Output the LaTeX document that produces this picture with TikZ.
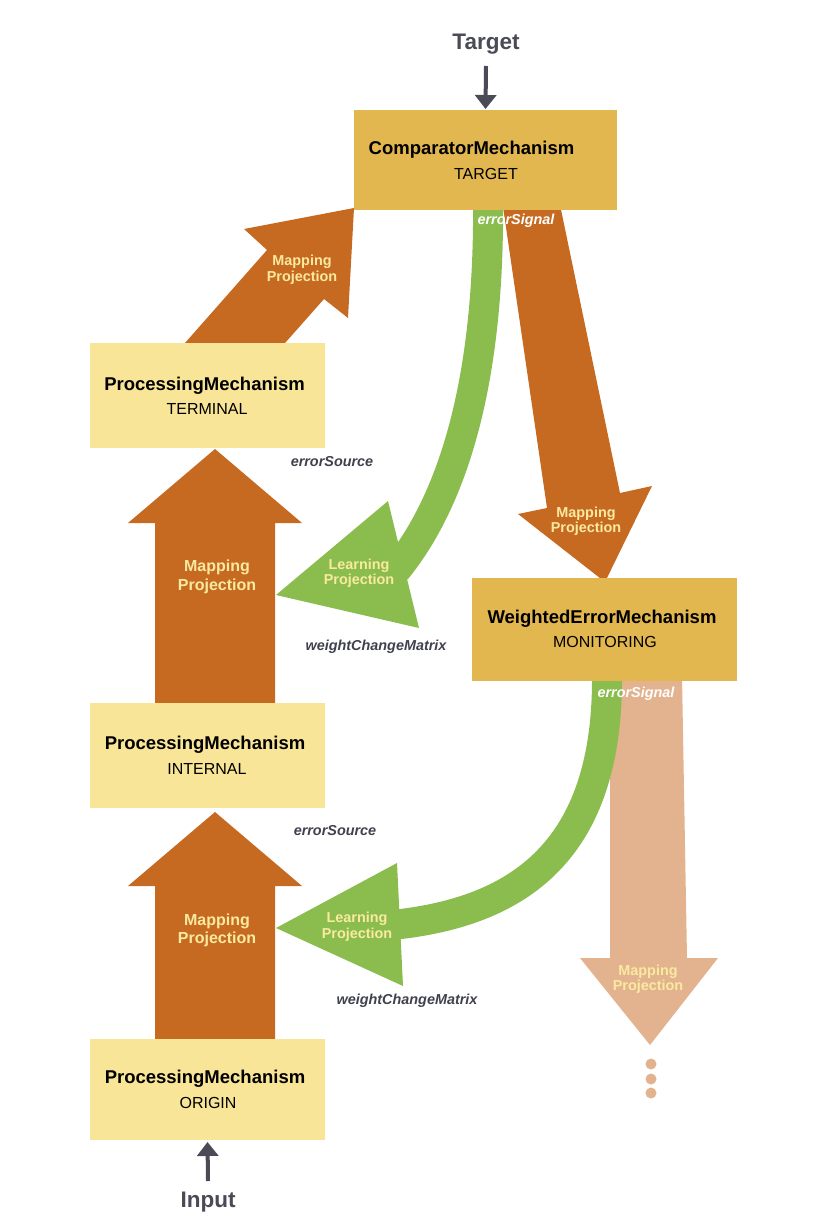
\documentclass[tikz,border=0pt]{standalone}
\usepackage{fontspec}
\setmainfont{Liberation Sans}
\usetikzlibrary{arrows.meta}
\definecolor{gold}{RGB}{227,183,79}
\definecolor{pale}{RGB}{248,229,151}
\definecolor{rust}{RGB}{198,106,34}
\definecolor{leaf}{RGB}{139,189,78}
\definecolor{peach}{RGB}{226,179,142}
\definecolor{cream}{RGB}{250,234,160}
\definecolor{slate}{RGB}{74,75,87}
\definecolor{ink}{RGB}{64,65,78}
\begin{document}
\begin{tikzpicture}[x=1pt,y=-1pt,
  box/.style={inner sep=0pt, outer sep=0pt, draw=none},
  palebox/.style={box, fill=pale, minimum width=235pt},
  goldbox/.style={box, fill=gold},
  mtitle/.style={font=\fontsize{18.5}{20}\selectfont\bfseries, anchor=base, inner sep=0pt},
  msub/.style={font=\fontsize{16}{18}\selectfont, anchor=base, inner sep=0pt},
  header/.style={font=\fontsize{22.5}{24}\selectfont\bfseries, text=slate, anchor=base, inner sep=0pt},
  arrlbl/.style={text=cream, font=\fontsize{14.4}{15.5}\selectfont\bfseries, align=center, inner sep=0pt},
  biglbl/.style={text=cream, font=\fontsize{16}{18.5}\selectfont\bfseries, align=center, inner sep=0pt},
  portlbl/.style={font=\fontsize{14.4}{16}\selectfont\bfseries\itshape, inner sep=0pt, text=ink},
  siglbl/.style={portlbl, text=white},
  ioarrow/.style={draw=slate, line width=4pt, -{Triangle[width=21pt,length=14pt]}},
  learnshaft/.style={draw=leaf, line width=30pt},
]
\useasboundingbox (0,0) rectangle (823,1230);

% ---------- projection arrows (shapes) ----------
% peach mapping projection (downwards, continuation)
\fill[peach] (610,676) -- (682,676) -- (687,958) -- (718,958) -- (650,1045) -- (580,958) -- (610,958) -- cycle;
% orange mapping projection comparator -> weighted error
\fill[rust] (502,200) -- (559,200) -- (620,493) -- (652,486) -- (605,582) -- (518,514) -- (547,508) -- cycle;
% diagonal mapping projection terminal -> comparator
\fill[rust] (170,360) -- (267,250) -- (244,229) -- (354,208) -- (348,318) -- (324,299) -- (270,360) -- cycle;
% vertical mapping projection internal -> terminal
\fill[rust] (155,708) -- (155,523) -- (128,523) -- (215,449) -- (302,523) -- (275,523) -- (275,708) -- cycle;
% vertical mapping projection origin -> internal
\fill[rust] (155,1044) -- (155,886) -- (128,886) -- (215,812) -- (302,886) -- (275,886) -- (275,1044) -- cycle;

% learning projections
\draw[learnshaft] (488,200) .. controls (490,400) and (445,510) .. (396,570);
\fill[leaf] (388,501) -- (276,595) -- (419,628) -- cycle;
\draw[learnshaft] (607,676) .. controls (608,850) and (520,912) .. (392,925);
\fill[leaf] (397,863) -- (276,928) -- (403,986) -- cycle;

% continuation dots
\fill[peach] (651,1064) circle (5.5);
\fill[peach] (651,1079) circle (5.5);
\fill[peach] (651,1093) circle (5.5);

% ---------- mechanisms ----------
\node[goldbox, minimum width=263pt, minimum height=100pt] (cmp) at (485.5,160) {};
\node[palebox, minimum height=105pt] (term) at (207.5,395.5) {};
\node[palebox, minimum height=105pt] (intl) at (207.5,755.5) {};
\node[palebox, minimum height=101pt] (orig) at (207.5,1089.5) {};
\node[goldbox, minimum width=265pt, minimum height=103pt] (wem) at (604.5,629.5) {};

\node[mtitle] (cmpT) at (471.5,154.6) {ComparatorMechanism};
\node[msub] (cmpS) at (486,179.7) {TARGET};
\node[mtitle] (termT) at (204.5,390.6) {ProcessingMechanism};
\node[msub] (termS) at (207,414.7) {TERMINAL};
\node[mtitle] (intlT) at (205,749.6) {ProcessingMechanism};
\node[msub] (intlS) at (207,774.7) {INTERNAL};
\node[mtitle] (origT) at (205,1083.6) {ProcessingMechanism};
\node[msub] (origS) at (208,1108.7) {ORIGIN};
\node[mtitle] (wemT) at (602,623.6) {WeightedErrorMechanism};
\node[msub] (wemS) at (605,647.7) {MONITORING};

% ---------- input / target ----------
\node[header] (tgt) at (486,50) {Target};
\coordinate (tgtstart) at (486,66);
\draw[ioarrow, shorten >=1pt] (tgtstart) -- (cmp.north);
\node[header] (inp) at (208,1207) {Input};
\coordinate (inpstart) at (208,1181);
\draw[ioarrow, shorten >=2pt] (inpstart) -- (orig.south);

% ---------- arrow labels ----------
\node[arrlbl] (l1) at (302,270) {Mapping\\Projection};
\node[biglbl] (l2) at (217,577) {Mapping\\Projection};
\node[biglbl] (l3) at (217,930.5) {Mapping\\Projection};
\node[arrlbl] (l4) at (359,573.5) {Learning\\Projection};
\node[arrlbl] (l5) at (357,927) {Learning\\Projection};
\node[arrlbl] (l6) at (586,521.5) {Mapping\\Projection};
\node[arrlbl] (l7) at (648,979.5) {Mapping\\Projection};

% ---------- port labels ----------
\node[siglbl] (es1) at (516,221) {errorSignal};
\node[siglbl] (es2) at (636,694) {errorSignal};
\node[portlbl] (eo1) at (332,462) {errorSource};
\node[portlbl] (eo2) at (335,831) {errorSource};
\node[portlbl] (wc1) at (376,647) {weightChangeMatrix};
\node[portlbl] (wc2) at (407,1001) {weightChangeMatrix};
\end{tikzpicture}
\end{document}
